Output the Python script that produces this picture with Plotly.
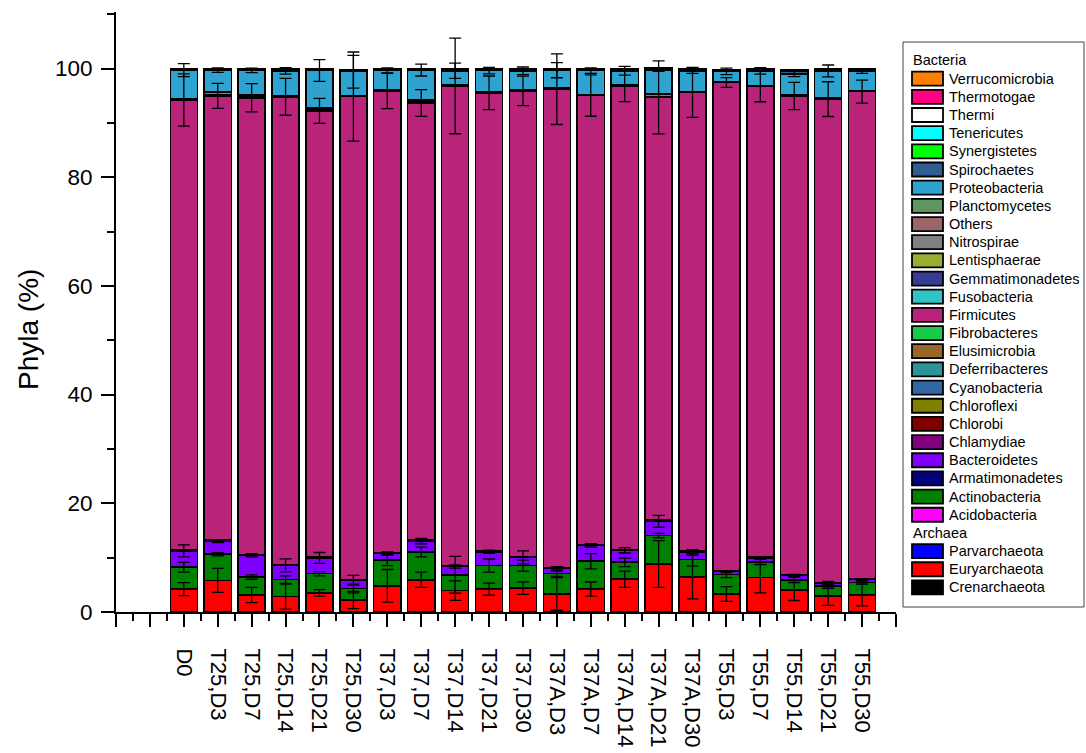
import numpy as np
import plotly.graph_objects as go

samples = ["D0", "T25,D3", "T25,D7", "T25,D14", "T25,D21", "T25,D30",
           "T37,D3", "T37,D7", "T37,D14", "T37,D21", "T37,D30",
           "T37A,D3", "T37A,D7", "T37A,D14", "T37A,D21", "T37A,D30",
           "T55,D3", "T55,D7", "T55,D14", "T55,D21", "T55,D30"]

# ---- relative abundance (%) per phylum, one value per sample ----
# Archaea
Crenarchaeota = [0.02, 0.01, 0.02, 0.03, 0.02, 0.01, 0.02, 0.02, 0.03, 0.02, 0.01,
                 0.02, 0.02, 0.03, 0.04, 0.02, 0.01, 0.02, 0.02, 0.01, 0.02]
Euryarchaeota = [4.2, 5.8, 3.1, 2.8, 3.5, 2.2, 4.8, 5.9, 3.9, 4.2, 4.4,
                 3.3, 4.2, 6.0, 8.8, 6.4, 3.3, 6.3, 4.0, 2.9, 3.1]
Parvarchaeota = [0.01, 0.01, 0.00, 0.01, 0.01, 0.01, 0.01, 0.00, 0.01, 0.01, 0.01,
                 0.01, 0.01, 0.00, 0.01, 0.01, 0.01, 0.01, 0.00, 0.01, 0.01]
# Bacteria
Acidobacteria = [0.01, 0.02, 0.01, 0.01, 0.01, 0.00, 0.01, 0.01, 0.01, 0.02, 0.01,
                 0.01, 0.01, 0.01, 0.01, 0.01, 0.00, 0.01, 0.01, 0.01, 0.01]
Actinobacteria = [4.0, 4.8, 3.3, 3.1, 3.5, 2.1, 4.7, 5.1, 2.9, 4.3, 4.1,
                  3.7, 5.1, 3.1, 5.2, 3.2, 3.6, 2.9, 1.9, 1.8, 2.3]
Armatimonadetes = [0.02, 0.03, 0.02, 0.02, 0.01, 0.02, 0.02, 0.03, 0.02, 0.02, 0.02,
                   0.01, 0.02, 0.02, 0.03, 0.02, 0.01, 0.02, 0.01, 0.02, 0.01]
Bacteroidetes = [3.0, 2.3, 4.0, 2.6, 2.9, 1.5, 1.2, 2.0, 1.5, 2.5, 1.5,
                 1.0, 2.9, 2.2, 2.6, 1.4, 0.5, 0.7, 0.8, 0.6, 0.5]
Chlamydiae = [0.01, 0.02, 0.01, 0.01, 0.01, 0.01, 0.01, 0.01, 0.01, 0.01, 0.01,
              0.01, 0.01, 0.01, 0.02, 0.01, 0.01, 0.01, 0.01, 0.01, 0.01]
Chlorobi = [0.01, 0.02, 0.01, 0.01, 0.01, 0.01, 0.01, 0.02, 0.01, 0.01, 0.01,
            0.01, 0.01, 0.01, 0.02, 0.01, 0.01, 0.01, 0.01, 0.01, 0.01]
Chloroflexi = [0.04, 0.08, 0.05, 0.03, 0.04, 0.02, 0.04, 0.05, 0.03, 0.04, 0.03,
               0.04, 0.05, 0.04, 0.08, 0.03, 0.02, 0.03, 0.02, 0.03, 0.02]
Cyanobacteria = [0.03, 0.06, 0.03, 0.02, 0.03, 0.02, 0.03, 0.04, 0.02, 0.03, 0.03,
                 0.03, 0.03, 0.03, 0.06, 0.03, 0.02, 0.02, 0.02, 0.02, 0.02]
Deferribacteres = [0.02, 0.03, 0.02, 0.02, 0.02, 0.01, 0.02, 0.02, 0.02, 0.02, 0.02,
                   0.02, 0.02, 0.02, 0.03, 0.02, 0.01, 0.02, 0.01, 0.02, 0.01]
Elusimicrobia = [0.01, 0.02, 0.01, 0.01, 0.01, 0.01, 0.01, 0.01, 0.01, 0.01, 0.01,
                 0.01, 0.01, 0.01, 0.02, 0.01, 0.01, 0.01, 0.01, 0.01, 0.01]
Fibrobacteres = [0.03, 0.07, 0.03, 0.03, 0.03, 0.02, 0.03, 0.04, 0.03, 0.03, 0.03,
                 0.03, 0.03, 0.03, 0.07, 0.03, 0.02, 0.03, 0.02, 0.02, 0.02]
Firmicutes = [82.8, 81.7, 84.0, 86.1, 82.1, 88.9, 85.0, 80.4, 88.3, 84.3, 85.7,
              88.0, 82.6, 85.3, 77.7, 84.4, 89.9, 86.6, 88.1, 88.9, 89.7]
Fusobacteria = [0.02, 0.03, 0.02, 0.02, 0.02, 0.02, 0.02, 0.03, 0.02, 0.02, 0.02,
                0.03, 0.02, 0.02, 0.03, 0.02, 0.01, 0.02, 0.02, 0.02, 0.02]
Gemmatimonadetes = [0.01, 0.01, 0.01, 0.01, 0.01, 0.01, 0.01, 0.01, 0.01, 0.01, 0.01,
                    0.01, 0.01, 0.01, 0.01, 0.01, 0.01, 0.01, 0.01, 0.01, 0.01]
Lentisphaerae = [0.02, 0.03, 0.02, 0.02, 0.03, 0.02, 0.02, 0.03, 0.02, 0.02, 0.02,
                 0.03, 0.02, 0.02, 0.03, 0.02, 0.01, 0.02, 0.02, 0.02, 0.02]
Nitrospirae = [0.01, 0.01, 0.01, 0.01, 0.01, 0.01, 0.01, 0.01, 0.01, 0.01, 0.01,
               0.01, 0.01, 0.01, 0.01, 0.01, 0.01, 0.01, 0.01, 0.01, 0.01]
Others = [0.08, 0.10, 0.09, 0.07, 0.08, 0.06, 0.08, 0.09, 0.07, 0.08, 0.08,
          0.12, 0.08, 0.07, 0.10, 0.08, 0.05, 0.07, 0.06, 0.07, 0.06]
Planctomycetes = [0.05, 0.5, 0.4, 0.05, 0.4, 0.05, 0.05, 0.4, 0.05, 0.05, 0.05,
                  0.1, 0.05, 0.05, 0.4, 0.05, 0.05, 0.05, 0.05, 0.05, 0.05]
Proteobacteria = [5.3, 4.05, 4.5, 4.6, 6.9, 4.4, 3.5, 5.5, 2.6, 3.9, 3.5,
                  3.2, 4.4, 2.6, 4.5, 3.8, 1.9, 2.7, 3.9, 5.0, 3.6]
Spirochaetes = [0.12, 0.10, 0.12, 0.10, 0.10, 0.12, 0.10, 0.10, 0.10, 0.10, 0.10,
                0.12, 0.10, 0.10, 0.10, 0.10, 0.10, 0.10, 0.50, 0.15, 0.15]
Synergistetes = [0.10, 0.10, 0.10, 0.10, 0.10, 0.10, 0.10, 0.10, 0.10, 0.10, 0.10,
                 0.10, 0.10, 0.10, 0.10, 0.10, 0.10, 0.10, 0.10, 0.10, 0.10]
Tenericutes = [0.05, 0.04, 0.05, 0.05, 0.05, 0.04, 0.05, 0.05, 0.05, 0.05, 0.05,
               0.05, 0.05, 0.05, 0.04, 0.05, 0.05, 0.05, 0.05, 0.05, 0.05]
Thermi = [0.01, 0.01, 0.01, 0.01, 0.01, 0.01, 0.01, 0.01, 0.01, 0.01, 0.01,
          0.01, 0.01, 0.01, 0.01, 0.01, 0.01, 0.01, 0.01, 0.01, 0.01]
Thermotogae = [0.02, 0.02, 0.02, 0.02, 0.02, 0.02, 0.02, 0.02, 0.02, 0.02, 0.02,
               0.02, 0.02, 0.02, 0.02, 0.02, 0.02, 0.02, 0.02, 0.02, 0.02]
Verrucomicrobia = [0.02, 0.02, 0.02, 0.02, 0.02, 0.02, 0.02, 0.02, 0.02, 0.02, 0.02,
                   0.02, 0.02, 0.02, 0.02, 0.02, 0.02, 0.02, 0.02, 0.02, 0.02]

# ---- standard deviations (%) ----
sd_Euryarchaeota = [1.2, 2.2, 1.4, 2.3, 0.6, 1.6, 3.0, 1.4, 1.8, 1.1, 1.15,
                    3.0, 1.3, 1.5, 4.3, 4.0, 1.35, 2.8, 1.9, 1.7, 2.0]
sd_Actinobacteria = [0.9, 0.3, 0.4, 0.7, 0.4, 0.8, 1.0, 0.9, 3.4, 1.2, 1.0,
                     0.5, 1.4, 0.8, 0.4, 1.2, 0.6, 0.5, 0.5, 0.4, 0.3]
sd_Bacteroidetes = [1.1, 0.2, 0.3, 1.2, 1.0, 0.9, 0.3, 0.5, 0.3, 0.3, 1.2,
                    0.3, 0.3, 0.5, 1.1, 0.4, 0.2, 0.2, 0.2, 0.3, 0.2]
sd_Firmicutes = [4.8, 2.3, 2.6, 3.4, 2.3, 8.2, 3.3, 2.45, 8.8, 3.1, 2.7,
                 6.5, 3.8, 2.9, 6.7, 4.6, 0.9, 2.8, 2.5, 3.2, 2.1]
sd_Proteobacteria = [1.2, 0.4, 0.4, 0.6, 2.0, 3.0, 0.5, 1.1, 1.4, 0.6, 0.7,
                     1.4, 0.5, 0.8, 0.3, 0.5, 0.6, 0.6, 0.5, 1.1, 0.4]

# stacking order (bottom -> top): name, values, colour, domain, sd
stack = [
    ("Crenarchaeota", Crenarchaeota, "#000000", "Archaea", None),
    ("Euryarchaeota", Euryarchaeota, "#FF0000", "Archaea", sd_Euryarchaeota),
    ("Parvarchaeota", Parvarchaeota, "#0000FF", "Archaea", None),
    ("Acidobacteria", Acidobacteria, "#FF00FF", "Bacteria", None),
    ("Actinobacteria", Actinobacteria, "#008000", "Bacteria", sd_Actinobacteria),
    ("Armatimonadetes", Armatimonadetes, "#000080", "Bacteria", None),
    ("Bacteroidetes", Bacteroidetes, "#8000FF", "Bacteria", sd_Bacteroidetes),
    ("Chlamydiae", Chlamydiae, "#800080", "Bacteria", None),
    ("Chlorobi", Chlorobi, "#800000", "Bacteria", None),
    ("Chloroflexi", Chloroflexi, "#808000", "Bacteria", None),
    ("Cyanobacteria", Cyanobacteria, "#3366A6", "Bacteria", None),
    ("Deferribacteres", Deferribacteres, "#289696", "Bacteria", None),
    ("Elusimicrobia", Elusimicrobia, "#996626", "Bacteria", None),
    ("Fibrobacteres", Fibrobacteres, "#16CC4A", "Bacteria", None),
    ("Firmicutes", Firmicutes, "#B9237A", "Bacteria", sd_Firmicutes),
    ("Fusobacteria", Fusobacteria, "#30C4C8", "Bacteria", None),
    ("Gemmatimonadetes", Gemmatimonadetes, "#373C96", "Bacteria", None),
    ("Lentisphaerae", Lentisphaerae, "#9AAD30", "Bacteria", None),
    ("Nitrospirae", Nitrospirae, "#808080", "Bacteria", None),
    ("Others", Others, "#9A6666", "Bacteria", None),
    ("Planctomycetes", Planctomycetes, "#5F9660", "Bacteria", None),
    ("Proteobacteria", Proteobacteria, "#2EA3CF", "Bacteria", sd_Proteobacteria),
    ("Spirochaetes", Spirochaetes, "#2F5F92", "Bacteria", None),
    ("Synergistetes", Synergistetes, "#00FF00", "Bacteria", None),
    ("Tenericutes", Tenericutes, "#00FFFF", "Bacteria", None),
    ("Thermi", Thermi, "#FFFFFF", "Bacteria", None),
    ("Thermotogae", Thermotogae, "#FF0080", "Bacteria", None),
    ("Verrucomicrobia", Verrucomicrobia, "#FF8000", "Bacteria", None),
]

FONT = "Liberation Sans, Arial, sans-serif"
W, H = 1086, 753
ML, MR, MT, MB = 116, 190, 12, 141
xpos = list(range(len(samples)))

fig = go.Figure()
for name, vals, color, domain, _ in stack:
    fig.add_trace(go.Bar(
        x=xpos, y=vals, name=name, width=0.8, showlegend=False,
        marker=dict(color=color, line=dict(color="black", width=1.5)),
    ))

# error bars drawn above all stacked segments, centred on each segment's top
tops = np.cumsum(np.array([s[1] for s in stack], dtype=float), axis=0)
for i, (name, vals, color, domain, sd) in enumerate(stack):
    if sd is None:
        continue
    fig.add_trace(go.Scatter(
        x=xpos, y=tops[i], mode="markers", showlegend=False, hoverinfo="skip",
        marker=dict(size=1, color="rgba(0,0,0,0)"),
        error_y=dict(type="data", array=sd, visible=True,
                     color="black", thickness=1.3, width=6),
    ))


# ---- boxed legend: Bacteria block then Archaea block, top entry = top of stack ----
def px_x(x):
    return (x - ML) / (W - ML - MR)


def px_y(y):
    return (H - MB - y) / (H - MT - MB)


shapes = [dict(type="rect", xref="paper", yref="paper",
               x0=px_x(903), x1=px_x(1084), y0=px_y(42), y1=px_y(607),
               line=dict(color="#404040", width=1), fillcolor="white", layer="above")]
annotations = []
row_y = 60.5
pitch = 18.17
for domain in ("Bacteria", "Archaea"):
    annotations.append(dict(text=domain, xref="paper", yref="paper",
                            x=px_x(911), y=px_y(row_y), xanchor="left", yanchor="middle",
                            showarrow=False, font=dict(size=14.5, family=FONT, color="black")))
    row_y += pitch
    for name, vals, color, dom, _ in reversed(stack):
        if dom != domain:
            continue
        shapes.append(dict(type="rect", xref="paper", yref="paper",
                           x0=px_x(912), x1=px_x(943), y0=px_y(row_y + 7), y1=px_y(row_y - 7),
                           line=dict(color="black", width=1.8), fillcolor=color, layer="above"))
        annotations.append(dict(text=name, xref="paper", yref="paper",
                                x=px_x(947), y=px_y(row_y), xanchor="left", yanchor="middle",
                                showarrow=False, font=dict(size=14.5, family=FONT, color="black")))
        row_y += pitch

annotations.append(dict(
    text="Phyla (%)", textangle=-90, showarrow=False,
    xref="paper", yref="paper", x=px_x(28), y=px_y(330),
    xanchor="center", yanchor="middle",
    font=dict(size=28, family=FONT, color="black"),
))

tickvals = list(range(-2, 22))
ticktext = ["", ""] + samples + [""]

fig.update_layout(
    width=W, height=H,
    barmode="stack",
    plot_bgcolor="white", paper_bgcolor="white",
    margin=dict(l=ML, r=MR, t=MT, b=MB, autoexpand=False),
    font=dict(family=FONT, color="black"),
    showlegend=False,
    xaxis=dict(
        range=[-2, 21], tickmode="array", tickvals=tickvals, ticktext=ticktext,
        tickangle=90, tickfont=dict(size=22, family=FONT), automargin=False,
        showline=True, linecolor="black", linewidth=2,
        ticks="outside", ticklen=13, tickwidth=2, tickcolor="black",
        ticklabelstandoff=17,
        minor=dict(tickmode="linear", tick0=-2, dtick=0.5, ticks="outside",
                   ticklen=7, tickwidth=2, tickcolor="black"),
        showgrid=False, zeroline=False,
    ),
    yaxis=dict(
        range=[0, 110.4], tickmode="linear", tick0=0, dtick=20,
        tickfont=dict(size=22.5, family=FONT), automargin=False,
        showline=True, linecolor="black", linewidth=2,
        ticks="outside", ticklen=13, tickwidth=2, tickcolor="black",
        ticklabelstandoff=4,
        minor=dict(tickmode="linear", tick0=0, dtick=10, ticks="outside",
                   ticklen=7, tickwidth=2, tickcolor="black"),
        showgrid=False, zeroline=False,
    ),
    shapes=shapes,
    annotations=annotations,
)

fig.write_html("out.html")
